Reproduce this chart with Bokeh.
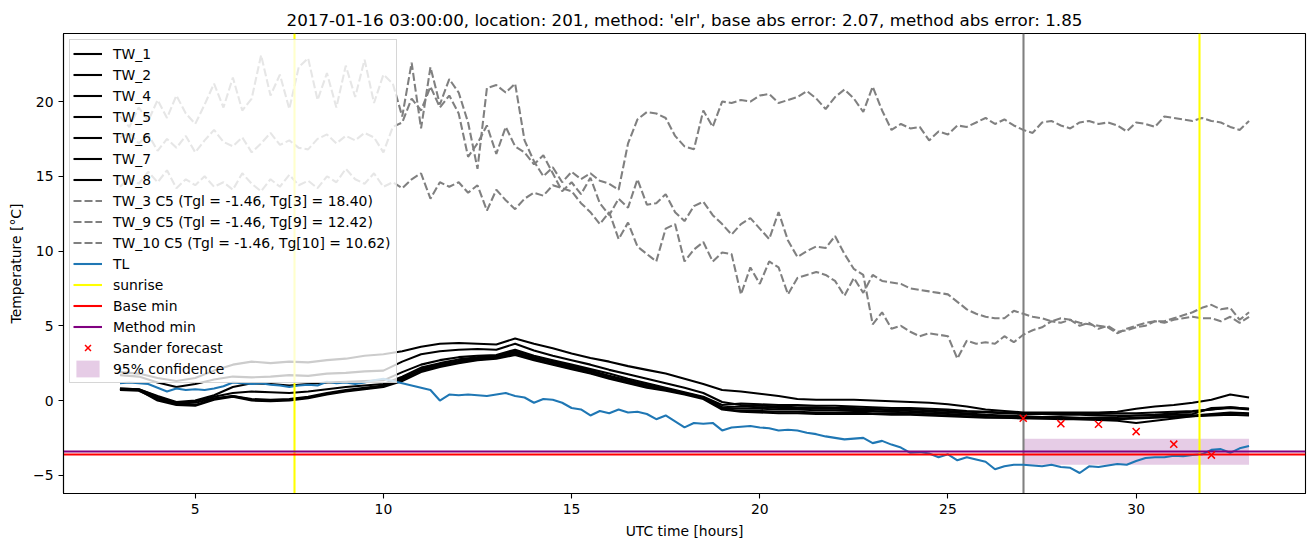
import numpy as np
from bokeh.plotting import figure
from bokeh.models import Range1d, Legend, LegendItem, FixedTicker
from bokeh.embed import file_html
from bokeh.resources import INLINE

# ---------------- data ----------------
hours_tw = np.arange(3.0, 33.01, 0.5)     # sampling grid of the TW sensors shown
hours_g = np.arange(3.0, 33.01, 0.25)     # sampling grid of TL and C5 series

tw_1 = [1.9, 1.8, 1.5, 1.3, 1.5, 2.0, 2.4, 2.6, 2.5, 2.6,
        2.55, 2.7, 2.8, 3.0, 3.1, 3.3, 3.6, 3.8, 3.85, 3.8,
        3.75, 4.15, 3.8, 3.5, 3.15, 2.85, 2.6, 2.3, 2.05, 1.8,
        1.45, 1.1, 0.7, 0.6, 0.45, 0.3, 0.1, 0.05, 0.05, 0.05,
        0.0, -0.05, -0.1, -0.15, -0.25, -0.4, -0.6, -0.7, -0.8, -0.8,
        -0.8, -0.8, -0.8, -0.75, -0.55, -0.4, -0.3, -0.15, 0.05, 0.4,
        0.2]
tw_2 = [1.7, 1.6, 1.2, 0.9, 1.1, 1.4, 1.6, 1.55, 1.6, 1.7,
        1.65, 1.8, 1.85, 1.95, 2.0, 2.6, 3.1, 3.3, 3.4, 3.45,
        3.4, 3.8, 3.35, 3.0, 2.7, 2.4, 2.05, 1.75, 1.45, 1.15,
        0.85, 0.5, -0.1, -0.3, -0.35, -0.4, -0.45, -0.45, -0.5, -0.5,
        -0.55, -0.6, -0.6, -0.65, -0.7, -0.75, -0.8, -0.85, -0.9, -0.9,
        -0.95, -0.95, -1.0, -1.0, -1.0, -1.0, -0.95, -0.9, -0.5, -0.45,
        -0.55]
tw_4 = [0.8, 0.75, 0.3, -0.1, 0.0, 0.35, 0.9, 1.15, 1.1, 1.0,
        1.1, 1.2, 1.25, 1.3, 1.35, 1.9, 2.4, 2.7, 2.9, 3.0,
        3.05, 3.4, 3.0, 2.7, 2.4, 2.1, 1.8, 1.45, 1.15, 0.85,
        0.55, 0.25, -0.3, -0.2, -0.25, -0.3, -0.3, -0.35, -0.35, -0.4,
        -0.45, -0.5, -0.5, -0.55, -0.6, -0.7, -0.75, -0.8, -0.85, -0.9,
        -0.9, -0.9, -0.9, -0.85, -0.85, -0.8, -0.75, -0.7, -0.6, -0.45,
        -0.55]
tw_5 = [0.75, 0.7, 0.2, -0.2, -0.15, 0.15, 0.3, 0.1, 0.05, 0.1,
        0.25, 0.5, 0.7, 0.85, 1.0, 1.5, 2.1, 2.4, 2.65, 2.85,
        2.95, 3.25, 2.85, 2.55, 2.25, 1.95, 1.6, 1.3, 0.95, 0.75,
        0.5, 0.2, -0.5, -0.55, -0.55, -0.6, -0.6, -0.65, -0.65, -0.7,
        -0.7, -0.75, -0.8, -0.85, -0.9, -0.95, -1.0, -1.05, -1.1, -1.15,
        -1.2, -1.25, -1.3, -1.35, -1.5, -1.35, -1.2, -1.05, -0.95, -0.85,
        -0.9]
tw_6 = [0.7, 0.65, 0.1, -0.25, -0.3, 0.1, 0.3, 0.05, 0.0, 0.05,
        0.2, 0.45, 0.65, 0.8, 0.95, 1.4, 2.0, 2.3, 2.55, 2.75,
        2.85, 3.15, 2.75, 2.45, 2.15, 1.85, 1.5, 1.2, 0.9, 0.7,
        0.45, 0.15, -0.55, -0.7, -0.7, -0.75, -0.75, -0.8, -0.8, -0.8,
        -0.85, -0.85, -0.9, -0.95, -1.0, -1.05, -1.1, -1.15, -1.15, -1.2,
        -1.2, -1.2, -1.25, -1.2, -1.15, -1.1, -1.05, -1.0, -0.9, -0.8,
        -0.85]
tw_7 = [0.75, 0.7, 0.0, -0.3, -0.35, 0.05, 0.25, 0.0, -0.05, 0.0,
        0.15, 0.4, 0.6, 0.75, 0.9, 1.3, 1.9, 2.25, 2.5, 2.7,
        2.8, 3.05, 2.7, 2.4, 2.1, 1.8, 1.45, 1.15, 0.85, 0.65,
        0.4, 0.1, -0.6, -0.75, -0.8, -0.85, -0.85, -0.9, -0.9, -0.9,
        -0.9, -0.95, -0.95, -1.0, -1.05, -1.1, -1.15, -1.15, -1.2, -1.2,
        -1.25, -1.25, -1.25, -1.25, -1.2, -1.15, -1.1, -1.05, -1.0, -0.95,
        -1.0]
tw_8 = [0.8, 0.75, 0.25, -0.15, -0.05, 0.25, 0.5, 0.6, 0.55, 0.5,
        0.6, 0.75, 0.9, 1.0, 1.1, 1.6, 2.2, 2.5, 2.75, 2.9,
        3.0, 3.3, 2.9, 2.6, 2.3, 2.0, 1.65, 1.35, 1.05, 0.8,
        0.5, 0.2, -0.45, -0.4, -0.45, -0.5, -0.5, -0.55, -0.55, -0.6,
        -0.6, -0.65, -0.7, -0.75, -0.8, -0.85, -0.95, -1.0, -1.05, -1.1,
        -1.1, -1.15, -1.15, -1.1, -1.0, -0.95, -0.85, -0.75, -0.6, -0.5,
        -0.6]

tw_3_c5 = [19.0, 18.3, 19.6, 18.7, 20.1, 18.9, 20.4, 19.2,
           18.5, 19.8, 21.2, 19.6, 21.6, 19.4, 20.2, 23.1,
           20.4, 21.8, 19.5, 22.3, 22.9, 20.1, 21.9, 19.6,
           22.4, 20.3, 22.8, 19.9, 21.8, 21.2, 19.0, 22.6,
           18.2, 22.3, 19.8, 21.5, 20.6, 18.6, 15.5, 20.9,
           21.1, 20.6, 21.2, 17.4, 16.0, 15.0, 15.6, 14.6,
           15.3, 14.8, 15.2, 14.7, 14.5, 14.1, 17.2, 18.8,
           19.3, 19.2, 18.9, 17.7, 17.0, 16.8, 19.4, 18.3,
           20.0, 19.9, 20.1, 20.0, 20.4, 20.5, 19.9, 20.1,
           20.3, 20.7, 20.2, 19.5, 20.3, 20.8, 20.2, 19.3,
           21.0, 19.4, 18.1, 18.5, 18.2, 18.3, 17.4, 18.0,
           17.8, 18.4, 18.3, 18.6, 18.9, 18.5, 18.8, 18.4,
           18.1, 17.9, 18.6, 18.7, 18.4, 18.2, 18.6, 18.7,
           18.5, 18.6, 18.4, 18.0, 18.6, 18.5, 18.3, 19.0,
           18.9, 18.8, 18.7, 18.9, 18.7, 18.6, 18.3, 18.1,
           18.7]
tw_9_c5 = [17.6, 17.9, 17.2, 17.8, 16.7, 17.5, 16.9, 17.7,
           16.6, 17.4, 18.1, 17.3, 17.0, 17.6, 16.6, 17.2,
           17.9, 17.1, 17.4, 16.9, 16.8, 17.5, 17.8, 17.2,
           17.7, 17.4, 17.9, 17.6, 16.6, 18.3, 18.6, 20.2,
           19.4, 21.0, 19.6, 20.4, 19.2, 16.3, 17.2, 18.4,
           16.5, 18.3, 17.0, 16.6, 15.8, 16.4, 15.2, 14.0,
           14.6, 13.8, 14.9, 13.2, 12.4, 13.5, 12.9, 14.8,
           13.1, 13.2, 13.8, 12.6, 12.0, 13.0, 13.3, 12.4,
           11.8, 11.1, 11.8, 12.2, 11.5, 10.8, 12.6, 10.7,
           9.6, 10.0, 10.3, 10.2, 11.0, 9.8, 8.8, 8.4,
           5.1, 5.9, 4.8, 5.0, 4.6, 4.3, 4.5, 4.4,
           4.3, 2.8, 4.0, 3.8, 3.9, 3.8, 4.3, 3.9,
           4.4, 4.7, 4.9, 5.3, 5.2, 5.4, 5.0, 5.2,
           4.8, 5.0, 4.6, 4.7, 4.9, 5.0, 5.3, 5.2,
           5.4, 5.5, 5.6, 5.5, 5.5, 5.3, 5.6, 5.2,
           5.6]
tw_10_c5 = [14.3, 14.9, 14.5, 15.3, 14.6, 15.4, 14.2, 14.8,
            14.4, 15.0, 14.3, 14.6, 14.1, 15.2, 14.5, 14.0,
            14.8, 14.3, 15.1, 14.4, 14.7, 14.2, 15.0, 14.6,
            15.5, 14.8, 14.5, 15.2, 14.3, 14.6, 14.2, 14.8,
            15.2, 13.5, 14.6, 14.3, 14.6, 13.9, 14.4, 12.7,
            14.1, 13.4, 12.8, 13.5, 13.9, 13.7, 14.4, 14.2,
            14.0, 13.2, 12.6, 11.8, 12.6, 10.8, 11.9, 10.3,
            9.8, 9.3, 11.5, 11.8, 9.3, 10.1, 10.6, 9.3,
            9.9, 9.8, 7.1, 8.9, 7.8, 9.3, 8.9, 7.1,
            8.2, 8.4, 8.6, 8.4, 8.0, 7.0, 8.2, 7.2,
            8.4, 8.0, 7.9, 7.8, 7.5, 7.4, 7.3, 7.2,
            7.1, 6.6, 6.1, 5.8, 5.6, 5.5, 5.5, 6.0,
            5.8, 5.6, 5.5, 5.3, 5.5, 5.4, 5.2, 5.1,
            5.0, 4.9, 4.5, 4.8, 5.0, 5.2, 5.3, 5.3,
            5.5, 5.7, 5.9, 6.2, 6.4, 6.1, 6.2, 5.4,
            5.9]
tl = [1.15, 1.20, 1.15, 1.10, 0.85, 0.60, 0.80, 0.70,
      0.75, 0.70, 0.80, 0.95, 1.20, 1.15, 1.10, 1.15,
      1.05, 1.00, 0.90, 1.00, 1.05, 1.00, 1.25, 1.15,
      1.20, 1.10, 1.20, 1.35, 1.45, 1.30, 1.15, 1.00,
      0.85, 0.70, 0.00, 0.40, 0.35, 0.40, 0.35, 0.30,
      0.40, 0.50, 0.30, 0.20, -0.15, 0.10, 0.05, -0.15,
      -0.50, -0.60, -1.00, -0.70, -0.85, -0.60, -0.80, -0.75,
      -0.90, -1.25, -1.00, -1.40, -1.80, -1.50, -1.55, -1.50,
      -2.00, -1.80, -1.75, -1.70, -1.80, -1.85, -2.00, -1.95,
      -2.00, -2.15, -2.25, -2.40, -2.50, -2.60, -2.55, -2.50,
      -2.85, -2.70, -2.95, -3.15, -3.50, -3.45, -3.55, -3.80,
      -3.60, -4.00, -3.80, -3.95, -4.10, -4.60, -4.40, -4.30,
      -4.30, -4.35, -4.40, -4.30, -4.45, -4.50, -4.85, -4.40,
      -4.45, -4.35, -4.25, -4.30, -4.05, -3.85, -3.80, -3.80,
      -3.70, -3.72, -3.65, -3.60, -3.30, -3.25, -3.50, -3.20,
      -3.05]

sunrise_hours = [7.65, 31.68]
forecast_hour = [27.0]
base_min = [-3.59]
method_min = [-3.39]
sander_hours = [27, 28, 29, 30, 31, 32]
sander_values = [-1.19, -1.55, -1.59, -2.08, -2.92, -3.65]
conf_hours = [27.0, 33.0]
conf_lower = [-4.3, -4.3]
conf_upper = [-2.55, -2.55]

tw_names = ["TW_1", "TW_2", "TW_4", "TW_5", "TW_6", "TW_7", "TW_8"]
tw_series = [tw_1, tw_2, tw_4, tw_5, tw_6, tw_7, tw_8]
c5_names = ["TW_3 C5 (Tgl = -1.46, Tg[3] = 18.40)",
            "TW_9 C5 (Tgl = -1.46, Tg[9] = 12.42)",
            "TW_10 C5 (Tgl = -1.46, Tg[10] = 10.62)"]
c5_series = [tw_3_c5, tw_9_c5, tw_10_c5]

x_ticks = [5, 10, 15, 20, 25, 30]
y_ticks = [-5, 0, 5, 10, 15, 20]

# ---------------- figure ----------------
FONT = "DejaVu Sans"
LW = 2.08

p = figure(width=1313, height=547, output_backend="svg", toolbar_location=None,
           x_range=Range1d(1.5, 34.5), y_range=Range1d(-6.22, 24.55),
           min_border_left=63, min_border_right=8, min_border_top=33,
           min_border_bottom=54)
p.title.text = ("2017-01-16 03:00:00, location: 201, method: 'elr', "
                "base abs error: 2.07, method abs error: 1.85")
p.title.align = "center"
p.title.text_font = FONT
p.title.text_font_size = "16.7px"
p.title.text_font_style = "normal"
p.title.text_color = "black"
p.title.standoff = 8
p.xgrid.visible = False
p.ygrid.visible = False
p.outline_line_color = "black"
p.outline_line_width = 1.1
p.background_fill_color = "white"
p.border_fill_color = "white"

items = []

conf_r = p.varea(x=conf_hours, y1=conf_lower, y2=conf_upper,
                 fill_color="purple", fill_alpha=0.2)

p.vspan(x=forecast_hour, line_color="gray", line_width=LW)

for name, vals in zip(tw_names, tw_series):
    r = p.line(hours_tw, vals, line_color="black", line_width=LW)
    items.append(LegendItem(label=name, renderers=[r]))

for name, vals in zip(c5_names, c5_series):
    r = p.line(hours_g, vals, line_color="gray", line_width=LW,
               line_dash="8 3")
    items.append(LegendItem(label=name, renderers=[r]))

r = p.line(hours_g, tl, line_color="#1f77b4", line_width=LW)
items.append(LegendItem(label="TL", renderers=[r]))

# reference lines; a one-point line (draws nothing) carries each legend glyph
p.vspan(x=sunrise_hours, line_color="yellow", line_width=LW)
leg_sun = p.line(x=sunrise_hours[:1], y=base_min, line_color="yellow",
                 line_width=LW)
items.append(LegendItem(label="sunrise", renderers=[leg_sun]))

p.hspan(y=base_min, line_color="red", line_width=LW)
leg_base = p.line(x=forecast_hour, y=base_min, line_color="red",
                  line_width=LW)
items.append(LegendItem(label="Base min", renderers=[leg_base]))

p.hspan(y=method_min, line_color="purple", line_width=LW)
leg_meth = p.line(x=forecast_hour, y=method_min, line_color="purple",
                  line_width=LW)
items.append(LegendItem(label="Method min", renderers=[leg_meth]))

r = p.scatter(sander_hours, sander_values, marker="x", size=10,
              line_color="red", line_width=1.5)
items.append(LegendItem(label="Sander forecast", renderers=[r]))
items.append(LegendItem(label="95% confidence", renderers=[conf_r]))

legend = Legend(items=items, location="top_left", margin=6, padding=3,
                spacing=0, glyph_height=21, glyph_width=29, label_height=21,
                label_width=280, label_standoff=11,
                label_text_font=FONT, label_text_font_size="13.9px",
                label_text_color="black",
                background_fill_color="white", background_fill_alpha=0.8,
                border_line_color="#cccccc", border_line_alpha=0.8,
                border_line_width=1)
p.add_layout(legend)

p.xaxis.ticker = FixedTicker(ticks=x_ticks)
p.yaxis.ticker = FixedTicker(ticks=y_ticks)
p.yaxis.major_label_overrides = {-5: "\u22125"}
p.xaxis.axis_label = "UTC time [hours]"
p.yaxis.axis_label = "Temperature [°C]"
for ax in (p.xaxis[0], p.yaxis[0]):
    ax.major_tick_out = 5
    ax.major_tick_in = 0
    ax.minor_tick_out = 0
    ax.minor_tick_in = 0
    ax.axis_line_width = 1.1
    ax.major_tick_line_width = 1.1
    ax.major_label_text_font = FONT
    ax.major_label_text_font_size = "13.9px"
    ax.major_label_text_color = "black"
    ax.major_label_standoff = 5
    ax.axis_label_text_font = FONT
    ax.axis_label_text_font_size = "13.9px"
    ax.axis_label_text_font_style = "normal"
    ax.axis_label_text_color = "black"
    ax.axis_label_standoff = 6

open("out.html", "w").write(file_html(p, INLINE))
